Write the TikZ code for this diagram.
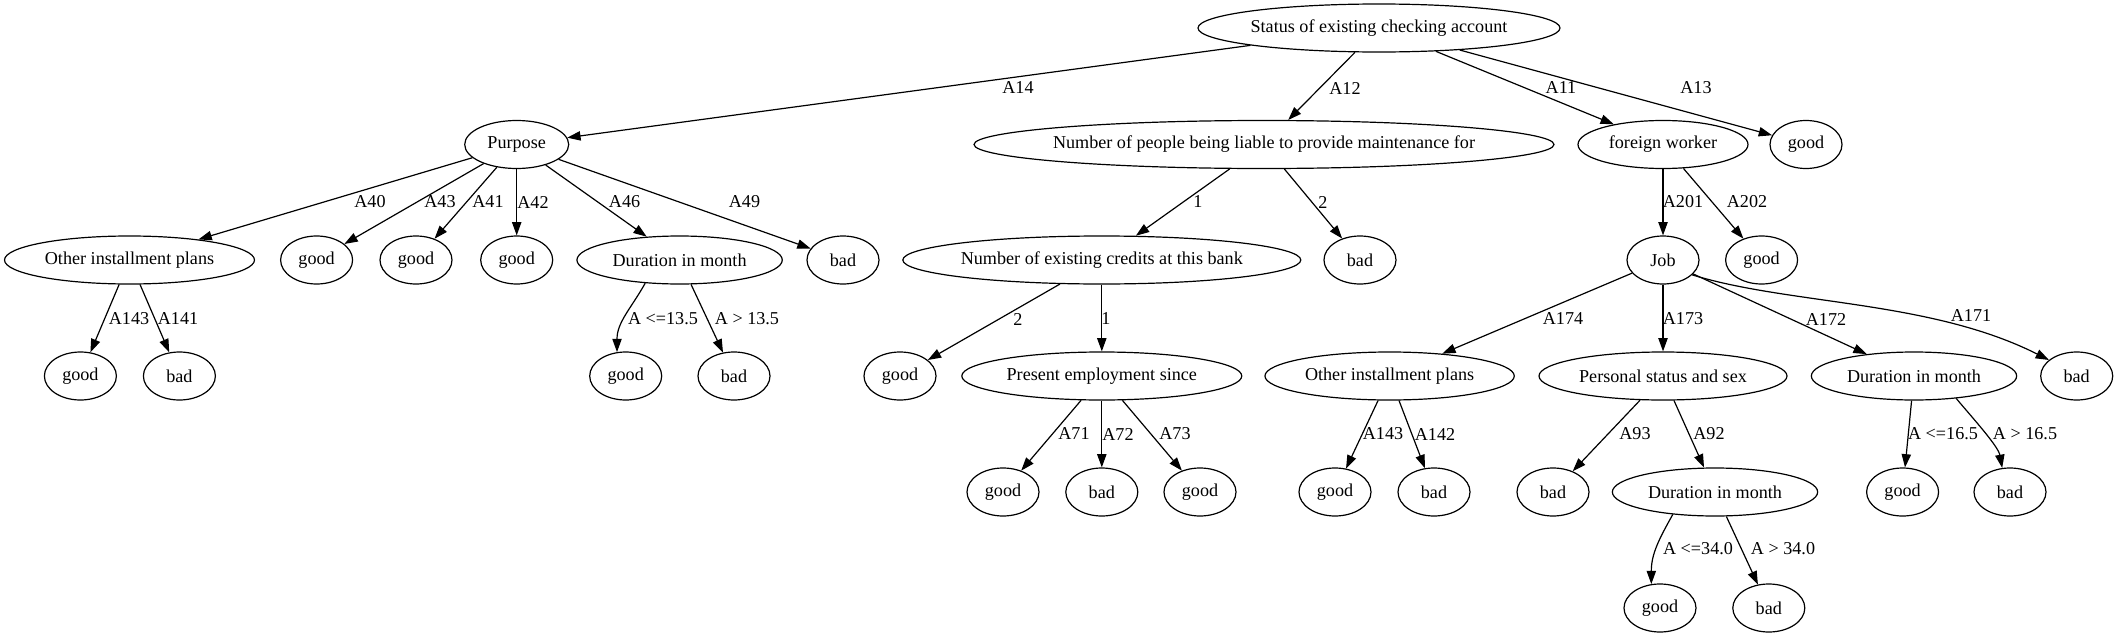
\documentclass[tikz,border=0pt]{standalone}
\usepackage{fontspec}
\setmainfont{Liberation Serif}
\usetikzlibrary{shapes.geometric,arrows.meta}
\begin{document}
\begin{tikzpicture}[x=0.75pt,y=-0.75pt,
  every node/.style={font=\fontsize{13.6pt}{16pt}\selectfont},
  gv/.style={ellipse,draw,line width=0.9pt,inner xsep=-40pt,inner ysep=0pt,minimum height=36pt,minimum width=#1},
  gv/.default=54pt,
  edge/.style={draw,line width=0.9pt,-{Triangle[length=10pt,width=7pt]}},
  lbl/.style={inner sep=0pt}]
\useasboundingbox (0,0) rectangle (2118,639);
% row 0
\node[gv=271.5pt] (root) at (1379,28) {Status of existing checking account};
% row 1
\node[gv=78pt] (purpose) at (516.7,144.5) {Purpose};
\node[gv=435pt] (people) at (1264,144.5) {Number of people being liable to provide maintenance for};
\node[gv=127.5pt] (foreign) at (1663,144.5) {foreign worker};
\node[gv] (g13) at (1806,144.5) {good};
% row 2
\node[gv=187.5pt] (oipa) at (129.5,260) {Other installment plans};
\node[gv] (g43) at (316.6,260) {good};
\node[gv] (g41) at (416,260) {good};
\node[gv] (g42) at (516.7,260) {good};
\node[gv=154pt] (dura) at (679.6,260) {Duration in month};
\node[gv] (b49) at (843,260) {bad};
\node[gv=298.5pt] (credits) at (1101.8,260) {Number of existing credits at this bank};
\node[gv] (bp2) at (1360,260) {bad};
\node[gv] (job) at (1663,260) {Job};
\node[gv] (g202) at (1761.6,260) {good};
% row 3
\node[gv] (g143a) at (80.4,376) {good};
\node[gv] (b141) at (179.4,376) {bad};
\node[gv] (gle135) at (625.7,376) {good};
\node[gv] (bgt135) at (734,376) {bad};
\node[gv] (gc2) at (900,376) {good};
\node[gv=210pt] (present) at (1101.8,376) {Present employment since};
\node[gv=187pt] (oipb) at (1389.6,376) {Other installment plans};
\node[gv=186pt] (personal) at (1663,376) {Personal status and sex};
\node[gv=154pt] (durb) at (1914,376) {Duration in month};
\node[gv] (b171) at (2076.7,376) {bad};
% row 4
\node[gv] (g71) at (1003,492) {good};
\node[gv] (b72) at (1101.8,492) {bad};
\node[gv] (g73) at (1200,492) {good};
\node[gv] (g143b) at (1335,492) {good};
\node[gv] (b142) at (1434,492) {bad};
\node[gv] (b93) at (1553,492) {bad};
\node[gv=154pt] (durc) at (1715,492) {Duration in month};
\node[gv] (gle165) at (1902.6,492) {good};
\node[gv] (bgt165) at (2010,492) {bad};
% row 5
\node[gv] (gle34) at (1660,608) {good};
\node[gv] (bgt34) at (1768.8,608) {bad};
% edges
\draw[edge] (root) -- (purpose);
\draw[edge] (root) -- (people);
\draw[edge] (root) -- (foreign);
\draw[edge] (root) -- (g13);
\draw[edge] (purpose) -- (oipa);
\draw[edge] (purpose) -- (g43);
\draw[edge] (purpose) -- (g41);
\draw[edge] (purpose) -- (g42);
\draw[edge] (purpose) -- (dura);
\draw[edge] (purpose) -- (b49);
\draw[edge] (people) -- (credits);
\draw[edge] (people) -- (bp2);
\draw[edge] (foreign) -- (job);
\draw[edge] (foreign) -- (g202);
\draw[edge] (oipa) -- (g143a);
\draw[edge] (oipa) -- (b141);
\draw[edge] (dura.-146) .. controls +(-14,25) and +(0,-30) .. (gle135.110);
\draw[edge] (dura) -- (bgt135);
\draw[edge] (credits) -- (gc2);
\draw[edge] (credits) -- (present);
\draw[edge] (job) -- (oipb);
\draw[edge] (job) -- (personal);
\draw[edge] (job) -- (durb);
\draw[edge] (job.-27) .. controls (1790,305) and (1930,300) .. (b171.150);
\draw[edge] (present) -- (g71);
\draw[edge] (present) -- (b72);
\draw[edge] (present) -- (g73);
\draw[edge] (oipb) -- (g143b);
\draw[edge] (oipb) -- (b142);
\draw[edge] (personal) -- (b93);
\draw[edge] (personal) -- (durc);
\draw[edge] (durb) -- (gle165);
\draw[edge] (durb.-28) .. controls +(15,18) and +(-4,-22) .. (bgt165.108);
\draw[edge] (durc.-152) .. controls +(-14,25) and +(0,-30) .. (gle34.110);
\draw[edge] (durc) -- (bgt34);
% labels
\node[lbl] (l14) at (1018,88) {A14};
\node[lbl] (l12) at (1345,88) {A12};
\node[lbl] (l11) at (1561,88) {A11};
\node[lbl] (l13) at (1696,88) {A13};
\node[lbl] (l40) at (370,202) {A40};
\node[lbl] (l43) at (440,202) {A43};
\node[lbl] (l41) at (488,202) {A41};
\node[lbl] (l42) at (533,202) {A42};
\node[lbl] (l46) at (624.6,202) {A46};
\node[lbl] (l49) at (744.5,202) {A49};
\node[lbl] (lp1) at (1198,202) {1};
\node[lbl] (lp2) at (1323,202) {2};
\node[lbl] (l201) at (1683,202) {A201};
\node[lbl] (l202) at (1747,202) {A202};
\node[lbl] (l143a) at (129,319) {A143};
\node[lbl] (l141) at (178,319) {A141};
\node[lbl] (lle135) at (663,319) {A <=13.5};
\node[lbl] (lgt135) at (747,319) {A > 13.5};
\node[lbl] (lc2) at (1018,319) {2};
\node[lbl] (lc1) at (1106,319) {1};
\node[lbl] (l174) at (1563,319) {A174};
\node[lbl] (l173) at (1683,319) {A173};
\node[lbl] (l172) at (1826,319) {A172};
\node[lbl] (l171) at (1971,316) {A171};
\node[lbl] (l71) at (1074,434) {A71};
\node[lbl] (l72) at (1118,434) {A72};
\node[lbl] (l73) at (1175,434) {A73};
\node[lbl] (l143b) at (1383,434) {A143};
\node[lbl] (l142) at (1435,434) {A142};
\node[lbl] (l93) at (1635,434) {A93};
\node[lbl] (l92) at (1709,434) {A92};
\node[lbl] (lle165) at (1943,434) {A <=16.5};
\node[lbl] (lgt165) at (2025,434) {A > 16.5};
\node[lbl] (lle34) at (1698,549) {A <=34.0};
\node[lbl] (lgt34) at (1783,549) {A > 34.0};
\end{tikzpicture}
\end{document}
